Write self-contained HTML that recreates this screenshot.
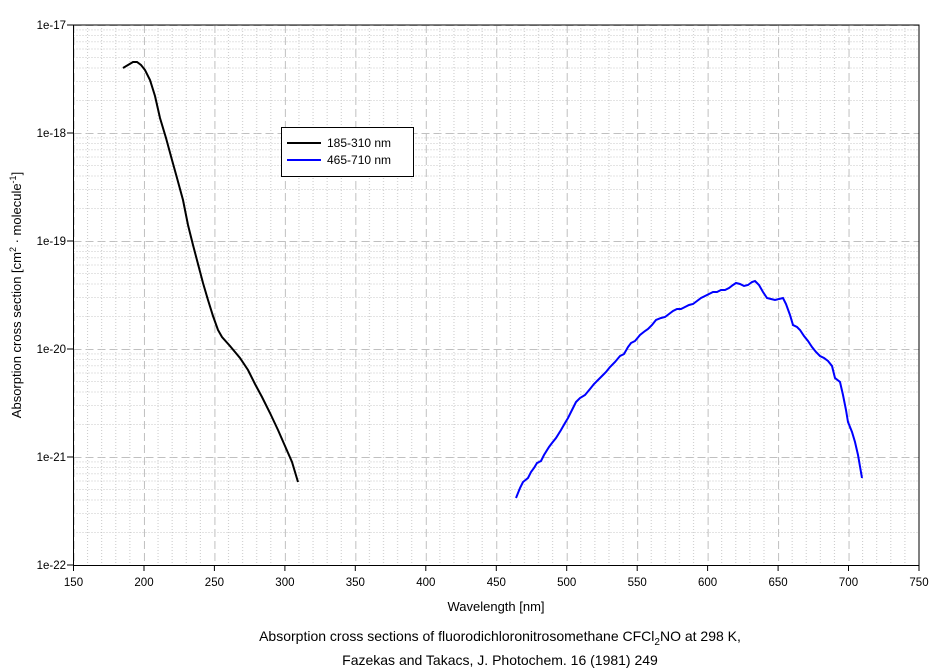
<!DOCTYPE html><html><head><style>body{margin:0;background:#fff}svg{display:block;font-family:"Liberation Sans",sans-serif}</style></head><body>
<svg width="944" height="672" xmlns="http://www.w3.org/2000/svg">
<defs>
<pattern id="vx" patternUnits="userSpaceOnUse" x="73.5" y="25" width="70.458" height="540">
<g stroke="#c8c8c8" stroke-dasharray="1,2"><line x1="14.09" y1="0" x2="14.09" y2="540"/><line x1="28.18" y1="0" x2="28.18" y2="540"/><line x1="42.27" y1="0" x2="42.27" y2="540"/><line x1="56.37" y1="0" x2="56.37" y2="540"/></g>
<line x1="0.5" y1="0" x2="0.5" y2="540" stroke="#c0c0c0" stroke-dasharray="8,4"/>
</pattern>
<pattern id="hy" patternUnits="userSpaceOnUse" x="73.5" y="25" width="846" height="108">
<g stroke="#c8c8c8" stroke-dasharray="1,2"><line x1="0" y1="75.5" x2="846" y2="75.5"/><line x1="0" y1="56.5" x2="846" y2="56.5"/><line x1="0" y1="43" x2="846" y2="43"/><line x1="0" y1="32.5" x2="846" y2="32.5"/><line x1="0" y1="24" x2="846" y2="24"/><line x1="0" y1="16.7" x2="846" y2="16.7"/><line x1="0" y1="10.5" x2="846" y2="10.5"/><line x1="0" y1="4.9" x2="846" y2="4.9"/></g>
<line x1="0" y1="0.5" x2="846" y2="0.5" stroke="#c0c0c0" stroke-dasharray="8,4"/>
</pattern>
</defs>
<rect x="73.5" y="25" width="845.5" height="540.5" fill="url(#hy)"/>
<rect x="73.5" y="25" width="845.5" height="540.5" fill="url(#vx)"/>
<rect x="73.5" y="25" width="845.5" height="540.5" fill="none" stroke="#000"/>
<g font-size="11.5" text-anchor="end">
<text x="66" y="29">1e-17</text><text x="66" y="137">1e-18</text><text x="66" y="245">1e-19</text><text x="66" y="353">1e-20</text><text x="66" y="461">1e-21</text><text x="66" y="569">1e-22</text>
</g>
<g stroke="#000"><line x1="67" y1="25" x2="73" y2="25"/><line x1="67" y1="133" x2="73" y2="133"/><line x1="67" y1="241" x2="73" y2="241"/><line x1="67" y1="349" x2="73" y2="349"/><line x1="67" y1="457" x2="73" y2="457"/><line x1="67" y1="565" x2="73" y2="565"/></g>
<g stroke="#000">
<line x1="73.5" y1="565" x2="73.5" y2="571"/><line x1="144" y1="565" x2="144" y2="571"/><line x1="214.4" y1="565" x2="214.4" y2="571"/><line x1="284.9" y1="565" x2="284.9" y2="571"/><line x1="355.3" y1="565" x2="355.3" y2="571"/><line x1="425.8" y1="565" x2="425.8" y2="571"/><line x1="496.3" y1="565" x2="496.3" y2="571"/><line x1="566.7" y1="565" x2="566.7" y2="571"/><line x1="637.2" y1="565" x2="637.2" y2="571"/><line x1="707.6" y1="565" x2="707.6" y2="571"/><line x1="778.1" y1="565" x2="778.1" y2="571"/><line x1="848.5" y1="565" x2="848.5" y2="571"/><line x1="919" y1="565" x2="919" y2="571"/>
</g>
<g font-size="11.5" text-anchor="middle">
<text x="73.5" y="586">150</text><text x="144" y="586">200</text><text x="214.4" y="586">250</text><text x="284.9" y="586">300</text><text x="355.3" y="586">350</text><text x="425.8" y="586">400</text><text x="496.3" y="586">450</text><text x="566.7" y="586">500</text><text x="637.2" y="586">550</text><text x="707.6" y="586">600</text><text x="778.1" y="586">650</text><text x="848.5" y="586">700</text><text x="919" y="586">750</text>
</g>
<text x="496" y="611" font-size="13" text-anchor="middle">Wavelength [nm]</text>
<text transform="translate(21,295) rotate(-90)" font-size="13" text-anchor="middle">Absorption cross section [cm<tspan font-size="9" dy="-5">2</tspan><tspan dy="5"> · molecule</tspan><tspan font-size="9" dy="-5">-1</tspan><tspan dy="5">]</tspan></text>
<text x="500" y="641" font-size="14" text-anchor="middle">Absorption cross sections of fluorodichloronitrosomethane CFCl<tspan font-size="10" dy="4">2</tspan><tspan dy="-4">NO at 298 K,</tspan></text>
<text x="500" y="665" font-size="14" text-anchor="middle">Fazekas and Takacs, J. Photochem. 16 (1981) 249</text>
<polyline fill="none" stroke="#000" stroke-width="2" points="123,68 128,65 133,62 137,62 141,65 145,70 150,80 155,96 160,118 166,138 172,160 177,178 183,200 188,225 193,245 198,264 203,283 208,300 213,316 218,330 222,337 230,346 240,358 248,370 255,384 262,397 270,413 278,430 285,446 292,462 298,482"/>
<polyline fill="none" stroke="#0000ff" stroke-width="2" points="516,498 520,488 523,482 528,478 531,472 534,468 537,463 541,461 544,455 549,447 552,443 556,438 561,430 565,423 568,418 572,410 576,402 580,398 585,395 590,389 594,384 598,380 603,375 606,372 610,367 615,362 620,356 624,354 628,347 631,343 635,341 640,335 645,331 648,329 652,325 656,320 661,318 665,317 669,314 673,311 677,309 681,309 685,307 689,305 693,304 697,301 701,298 705,296 709,294 713,292 717,292 721,290 725,290 729,288 733,285 736,283 740,284 744,286 748,285 752,282 755,281 759,285 763,292 767,298 771,299 775,300 779,299 783,298 786,304 790,315 793,325 797,327 800,330 804,336 808,341 812,347 816,352 820,356 824,358 828,361 832,366 835,378 840,382 843,395 846,410 848,422 852,432 855,442 858,455 862,478"/>
<rect x="281.5" y="127.5" width="132" height="49" fill="#fff" stroke="#000"/>
<line x1="287" y1="143" x2="321" y2="143" stroke="#000" stroke-width="2"/>
<line x1="287" y1="160" x2="321" y2="160" stroke="#0000ff" stroke-width="2"/>
<text x="327" y="147" font-size="12">185-310 nm</text>
<text x="327" y="164" font-size="12">465-710 nm</text>
</svg></body></html>
